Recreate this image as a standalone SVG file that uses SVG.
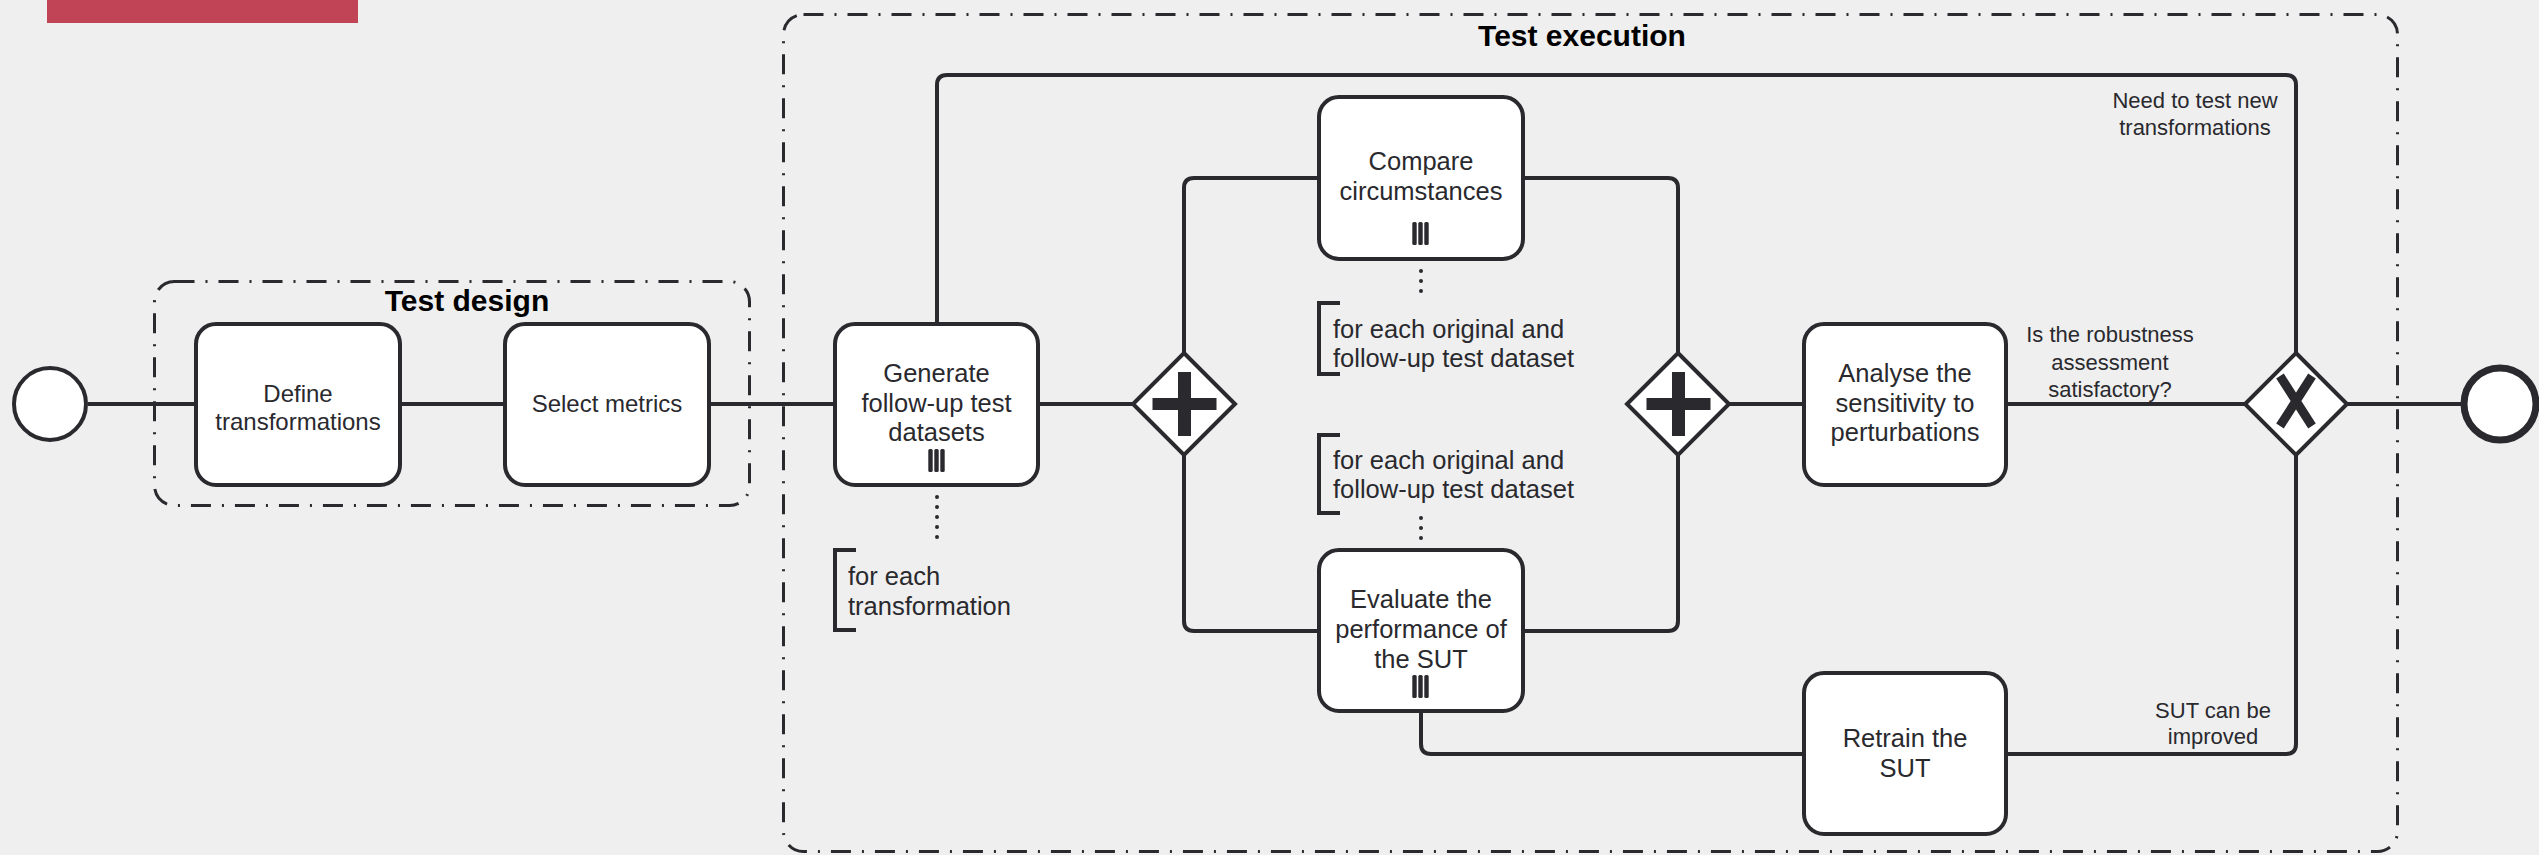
<svg xmlns="http://www.w3.org/2000/svg" width="2539" height="855" viewBox="0 0 2539 855">
<style>
.bg{fill:#efefef}
.grp{fill:none;stroke:#29292e;stroke-width:3;stroke-dasharray:20 11 2 11}
.title{font-family:"Liberation Sans",Arial,sans-serif;font-weight:bold;font-size:30px;fill:#000;text-anchor:middle}
.task{fill:#fff;stroke:#29292e;stroke-width:4}
.t{font-family:"Liberation Sans",Arial,sans-serif;font-size:25.5px;fill:#29292e;text-anchor:middle}
.t24{font-family:"Liberation Sans",Arial,sans-serif;font-size:24px;fill:#29292e;text-anchor:middle}
.ann{font-family:"Liberation Sans",Arial,sans-serif;font-size:25.5px;fill:#29292e}
.lbl{font-family:"Liberation Sans",Arial,sans-serif;font-size:22px;fill:#29292e;text-anchor:middle}
.edge{fill:none;stroke:#29292e;stroke-width:4}
.dots{fill:none;stroke:#29292e;stroke-width:4;stroke-linecap:round;stroke-dasharray:0 10}
.brk{fill:none;stroke:#29292e;stroke-width:4}
.gw{fill:#fff;stroke:#29292e;stroke-width:4;stroke-linejoin:miter}
.mark{fill:#29292e}
</style>
<defs>
<g id="mi">
<rect x="-8.2" y="0" width="4.4" height="23" rx="1.5" class="mark"/>
<rect x="-2.2" y="0" width="4.4" height="23" rx="1.5" class="mark"/>
<rect x="3.8" y="0" width="4.4" height="23" rx="1.5" class="mark"/>
</g>
<g id="plus">
<rect x="-32" y="-6" width="64" height="12" class="mark"/>
<rect x="-6.5" y="-32" width="13" height="64" class="mark"/>
</g>
</defs>
<rect class="bg" x="0" y="0" width="2539" height="855"/>
<rect x="47" y="0" width="311" height="23" fill="#c04455"/>

<g id="group-test-design">
<rect class="grp" x="154.5" y="281.5" width="595" height="224" rx="20"/>
<text class="title" x="467" y="311">Test design</text>
</g>
<g id="group-test-execution">
<rect class="grp" x="783.5" y="14.5" width="1614" height="837" rx="20"/>
<text class="title" x="1582" y="46">Test execution</text>
</g>

<g id="connectors">
<path class="edge" d="M88 404H194"/>
<path class="edge" d="M402 404H503"/>
<path class="edge" d="M711 404H833"/>
<path class="edge" d="M1040 404H1133"/>
<path class="edge" d="M1184 353V188Q1184 178 1194 178H1317"/>
<path class="edge" d="M1184 455V621Q1184 631 1194 631H1317"/>
<path class="edge" d="M1525 178H1668Q1678 178 1678 188V353"/>
<path class="edge" d="M1525 631H1668Q1678 631 1678 621V455"/>
<path class="edge" d="M1729 404H1802"/>
<path class="edge" d="M2008 404H2245"/>
<path class="edge" d="M2347 404H2464"/>
<path class="edge" d="M2296 353V85Q2296 75 2286 75H947Q937 75 937 85V322"/>
<path class="edge" d="M2296 455V744Q2296 754 2286 754H2008"/>
<path class="edge" d="M1802 754H1431Q1421 754 1421 744V713"/>
<path class="dots" d="M937 497V540"/>
<path class="dots" d="M1421 271V293"/>
<path class="dots" d="M1421 518V540"/>
<text class="lbl" x="2195" y="108">Need to test new</text>
<text class="lbl" x="2195" y="135">transformations</text>
<text class="lbl" x="2110" y="342">Is the robustness</text>
<text class="lbl" x="2110" y="370">assessment</text>
<text class="lbl" x="2110" y="397">satisfactory?</text>
<text class="lbl" x="2213" y="718">SUT can be</text>
<text class="lbl" x="2213" y="744">improved</text>
</g>

<g id="start-event">
<circle cx="50" cy="404" r="36" fill="#fff" stroke="#29292e" stroke-width="4"/>
</g>
<g id="end-event">
<circle cx="2500" cy="404" r="36" fill="#fff" stroke="#29292e" stroke-width="7"/>
</g>

<g id="task-define">
<rect class="task" x="196" y="324" width="204" height="161" rx="20"/>
<text class="t24" x="298" y="402">Define</text>
<text class="t24" x="298" y="430">transformations</text>
</g>
<g id="task-select">
<rect class="task" x="505" y="324" width="204" height="161" rx="20"/>
<text class="t24" x="607" y="412">Select metrics</text>
</g>
<g id="task-generate">
<rect class="task" x="835" y="324" width="203" height="161" rx="20"/>
<text class="t" x="936.5" y="382">Generate</text>
<text class="t" x="936.5" y="412">follow-up test</text>
<text class="t" x="936.5" y="441">datasets</text>
<use href="#mi" x="936.5" y="449"/>
</g>
<g id="annotation-transformation">
<path class="brk" d="M856 550H835V630H856"/>
<text class="ann" x="848" y="585">for each</text>
<text class="ann" x="848" y="615">transformation</text>
</g>
<g id="gateway-split">
<path class="gw" d="M1184 353L1235 404L1184 455L1133 404Z"/>
<use href="#plus" x="1184.5" y="404"/>
</g>
<g id="task-compare">
<rect class="task" x="1319" y="97" width="204" height="162" rx="20"/>
<text class="t" x="1421" y="170">Compare</text>
<text class="t" x="1421" y="200">circumstances</text>
<use href="#mi" x="1420.5" y="222"/>
</g>
<g id="annotation-compare">
<path class="brk" d="M1340 303H1319V374H1340"/>
<text class="ann" x="1333" y="338">for each original and</text>
<text class="ann" x="1333" y="367">follow-up test dataset</text>
</g>
<g id="annotation-evaluate">
<path class="brk" d="M1340 435H1319V513H1340"/>
<text class="ann" x="1333" y="469">for each original and</text>
<text class="ann" x="1333" y="498">follow-up test dataset</text>
</g>
<g id="task-evaluate">
<rect class="task" x="1319" y="550" width="204" height="161" rx="20"/>
<text class="t" x="1421" y="608">Evaluate the</text>
<text class="t" x="1421" y="638">performance of</text>
<text class="t" x="1421" y="668">the SUT</text>
<use href="#mi" x="1420.5" y="675"/>
</g>
<g id="gateway-join">
<path class="gw" d="M1678 353L1729 404L1678 455L1627 404Z"/>
<use href="#plus" x="1678.5" y="404"/>
</g>
<g id="task-analyse">
<rect class="task" x="1804" y="324" width="202" height="161" rx="20"/>
<text class="t" x="1905" y="382">Analyse the</text>
<text class="t" x="1905" y="412">sensitivity to</text>
<text class="t" x="1905" y="441">perturbations</text>
</g>
<g id="gateway-xor">
<path class="gw" d="M2296 353L2347 404L2296 455L2245 404Z"/>
<path d="M2280 376L2312 426M2312 376L2280 426" stroke="#29292e" stroke-width="9" fill="none"/>
</g>
<g id="task-retrain">
<rect class="task" x="1804" y="673" width="202" height="161" rx="20"/>
<text class="t" x="1905" y="747">Retrain the</text>
<text class="t" x="1905" y="777">SUT</text>
</g>
</svg>
